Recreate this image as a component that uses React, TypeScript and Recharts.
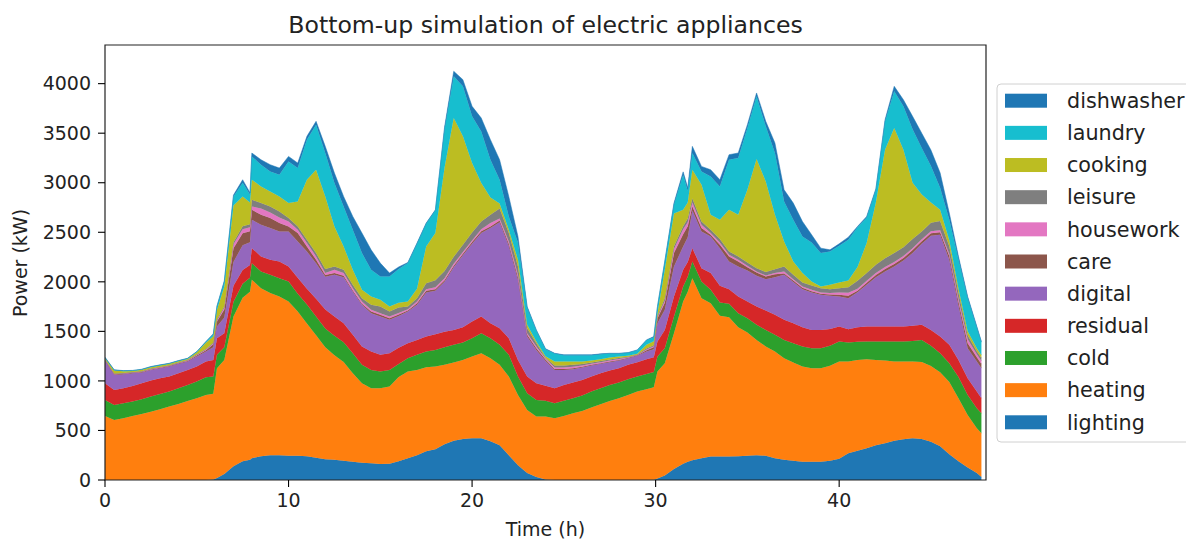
import React from 'react';
import { AreaChart, Area, XAxis, YAxis, ReferenceArea } from 'recharts';

const hours = [0,0.5,1,1.5,2,2.5,3,3.5,4,4.5,5,5.5,5.9,6.1,6.5,7,7.5,7.9,8,8.5,9,9.5,10,10.5,11,11.5,12,12.5,13,13.5,14,14.5,15,15.5,16,16.5,17,17.5,18,18.5,19,19.5,20,20.5,21,21.5,22,22.5,23,23.5,24,24.5,25,25.5,26,26.5,27,27.5,28,28.5,29,29.5,29.9,30.1,30.5,31,31.5,31.75,32,32.5,33,33.5,34,34.5,35,35.5,36,36.5,37,37.5,38,38.5,39,39.5,40,40.5,41,41.5,42,42.5,43,43.5,44,44.5,45,45.5,46,46.5,47,47.5,47.75];

const lighting = [0,0,0,0,0,0,0,0,0,0,0,0, 5,20,60,140,190,205, 220,240,250,250,245,245,240,225,210,205,195,185,175,168,162,165,190,220,250,290,310,360,395,415,421,421,390,350,250,150,70,30,5,0,0,0,0,0,0,0,0,0,0,0, 2,15, 45,110,165, 185, 200,220,236,236,236,240,245,250,245,220,205,195,185,185,185,195,215,270,295,320,350,370,395,411,421,415,385,340,260,190,125,70, 30];
const heating = [646,606,623,646,667,690,714,741,768,798,825,858, 865,1108,1152,1510,1650,1695, 1800,1696,1636,1602,1556,1455,1340,1235,1130,1055,995,892,801,758,764,778,850,874,861,848,835,802,790,797,825,858,839,812,794,709,637,610,635,623,646,673,697,731,764,798,825,859,892,916, 933,1079, 1133,1371,1636, 1715, 1837,1615,1549,1421,1407,1302,1243,1164,1102,1076,1024,990,960,943,943,957,980,925,917,899,862,835,800,784,774,777,765,748,730,635,532,452, 441];
const cold = [162,152,151,145,148,152,155,151,158,162,168,179, 174,135,128,150,140,140, 168,168,185,185,202,180,190,190,190,195,200,202,186,185,168,168,130,135,152,158,168,178,179,175,185,202,202,202,219,185,168,168,160,151,155,152,155,161,162,162,158,158,152,155, 155,152, 152,169,152, 150, 168,168,134,134,135,142,145,152,168,169,185,195,202,202,202,202,202,192,182,178,185,192,202,202,209,222,204,191,188,215,201,202, 202];
const residual = [168,151,152,158,161,161,158,152,151,151,152,158, 168,168,140,160,140,130, 152,152,151,168,152,160,160,180,190,195,192,186,185,185,169,168,165,151,151,152,158,155,151,155,168,169,151,168,168,168,169,168,150,152,159,158,158,152,151,144,145,145,145,148, 150,151, 185,202,168, 150, 135,135,169,169,148,168,168,185,195,202,202,202,195,185,185,171,152,135,148,152,152,152,152,152,152,152,161,169,186,170,169,168, 152];
const digital = [229,152,141,128,108,108,101,101,95,84,101,101, 128,118,160,240,250,230, 286,320,320,303,353,367,376,358,330,421,465,437,421,388,387,337,320,320,354,444,439,505,633,727,785,842,960,1068,933,808,404,337,250,185,151,135,125,111,95,85,77,67,64,77, 80,185, 202,303,236, 250, 380,370,370,380,279,303,313,310,317,380,455,415,384,377,354,334,303,313,353,421,498,555,606,666,734,818,950,1027,858,550,303,303, 303];
const care = [5,5,5,5,5,5,5,5,5,5,10,14, 30,51,80,140,120,110, 101,101,101,85,51,85,51,34,20,17,14,10,10,16,17,17,15,10,17,17,15,15,14,14,17,18,17,20,20,27,17,17,15,10,10,10,8,7,7,6,6,5,5,14, 20,51, 73,135,123, 110, 40,34,17,34,51,50,34,33,27,30,14,16,14,14,10,13,18,25,15,20,23,26,25,25,30,26,25,25,38,40,50,45, 42];
const housework = [4,4,4,4,4,4,4,4,4,5,6,6, 8,10,20,40,40,40, 34,63,57,57,50,33,34,34,20,33,27,24,23,17,17,17,16,14,16,17,20,20,20,17,17,20,34,20,23,24,16,17,10,15,15,15,12,10,10,10,9,6,4,8, 10,12, 20,40,50, 40, 40,34,17,23,17,17,14,10,10,11,19,14,13,13,13,14,22,30,20,20,20,20,20,20,20,20,20,20,20,30,40,30, 30];
const leisure = [4,4,4,4,4,4,4,4,4,5,6,6, 7,10,10,20,30,30, 67,55,61,60,34,34,33,34,40,34,33,34,34,51,67,50,54,27,34,60,70,75,70,75,80,80,85,100,85,84,51,33,10,20,20,20,15,13,11,10,10,5,4,8, 10,10, 25,30,30, 40, 40,33,33,34,33,34,33,34,34,40,51,44,41,44,44,40,44,56,80,78,82,89,90,90,91,79,85,95,80,60,40,30, 30];
const cooking = [11,31,18,10,15,14,14,14,14,12,20,63, 65,97,200,370,300,220, 202,168,151,152,152,252,606,841,732,404,236,151,84,84,67,51,50,50,95,371,477,1040,1401,1093,702,387,172,50,33,67,34,17,15,39,39,32,25,20,19,21,16,8,7,38, 40,29, 286,330,167, 160, 291,371,152,195,421,421,734,1101,915,549,252,134,94,40,17,44,58,67,140,303,628,1094,1262,983,569,371,205,112,60,40,40,30, 30];
const laundry = [6,5,4,4,4,5,5,4,4,5,6,10, 20,34,50,90,140,80, 236,219,202,219,420,337,404,455,438,438,404,404,371,269,236,303,340,388,455,231,230,390,421,505,470,521,382,240,135,176,174,113,70,81,65,65,65,55,51,40,30,30,37,46, 40,61, 79,90,353, 120, 169,134,387,337,505,572,623,633,556,623,404,421,370,394,337,336,370,411,400,259,130,287,370,438,540,470,370,223,206,300,340,210, 130];
const dishwasher = [5,2,2,2,2,2,2,2,2,2,2,2, 5,5,10,15,30,20, 34,50,68,67,51,51,34,34,67,101,101,135,202,202,135,34,20,6,6,5,5,20,51,67,101,135,202,202,202,60,11,5,5,3,3,3,3,3,3,3,3,3,3,4, 8,6, 10,15,30, 30, 67,51,67,67,51,51,34,34,51,101,118,169,151,78,50,17,20,27,9,10,10,16,51,67,130,150,160,150,68,26,12,9, 7];

const categories = ['lighting', 'heating', 'cold', 'residual', 'digital', 'care', 'housework', 'leisure', 'cooking', 'laundry', 'dishwasher'];
const seriesValues = [lighting, heating, cold, residual, digital, care, housework, leisure, cooking, laundry, dishwasher];
const colors = ['#1f77b4', '#ff7f0e', '#2ca02c', '#d62728', '#9467bd', '#8c564b', '#e377c2', '#7f7f7f', '#bcbd22', '#17becf', '#1f77b4'];

const xTicks = [0, 10, 20, 30, 40];
const yTicks = [0, 500, 1000, 1500, 2000, 2500, 3000, 3500, 4000];
const X_MAX = 48;
const Y_MAX = 4390;

const data = hours.map((t, i) => {
  const row: Record<string, number> = { t };
  categories.forEach((c, k) => {
    row[c] = seriesValues[k][i];
  });
  return row;
});

const FONT = "'DejaVu Sans', 'Liberation Sans', sans-serif";
const TEXT = '#222222';

export default function App() {
  const legendItems = categories.map((c, k) => ({ name: c, color: colors[k] })).reverse();
  return (
    <div style={{ position: 'absolute', left: 0, top: 0, width: 1186, height: 540, background: '#ffffff', overflow: 'hidden' }}>
      <AreaChart width={1186} height={540} data={data} margin={{ top: 45, right: 200, bottom: 0, left: 0 }}>
        <XAxis
          dataKey="t"
          type="number"
          domain={[0, X_MAX]}
          ticks={xTicks}
          height={60}
          tickSize={7}
          tickMargin={7}
          axisLine={false}
          tickLine={{ stroke: '#000', strokeWidth: 1.1 }}
          tick={{ fontFamily: FONT, fontSize: 19, fill: TEXT }}
          allowDataOverflow
        />
        <YAxis
          type="number"
          domain={[0, Y_MAX]}
          ticks={yTicks}
          width={105}
          tickSize={7}
          tickMargin={7}
          axisLine={false}
          tickLine={{ stroke: '#000', strokeWidth: 1.1 }}
          tick={{ fontFamily: FONT, fontSize: 19, fill: TEXT }}
          allowDataOverflow
        />
        {categories.map((c, k) => (
          <Area
            key={c}
            type="linear"
            dataKey={c}
            stackId="stack"
            stroke={colors[k]}
            strokeWidth={0.5}
            fill={colors[k]}
            fillOpacity={1}
            dot={false}
            activeDot={false}
            isAnimationActive={false}
          />
        ))}
        <ReferenceArea x1={0} x2={X_MAX} y1={0} y2={Y_MAX} fill="none" fillOpacity={0} stroke="#222" strokeWidth={1.2} />
      </AreaChart>
      <svg width={1186} height={540} style={{ position: 'absolute', left: 0, top: 0, pointerEvents: 'none' }}>
        <text x={545.5} y={33} textAnchor="middle" fontFamily={FONT} fontSize={23.6} fill={TEXT}>
          Bottom-up simulation of electric appliances
        </text>
        <text x={545.5} y={536} textAnchor="middle" fontFamily={FONT} fontSize={19} fill={TEXT}>
          Time (h)
        </text>
        <text transform="translate(27,263) rotate(-90)" textAnchor="middle" fontFamily={FONT} fontSize={19} fill={TEXT}>
          Power (kW)
        </text>
        <rect x={997} y={84} width={230} height={358} rx={4} ry={4} fill="#ffffff" fillOpacity={0.85} stroke="#d0d0d0" strokeWidth={1} />
        {legendItems.map((it, k) => {
          const cy = 100.7 + 32.16 * k;
          return (
            <g key={it.name}>
              <rect x={1005} y={cy - 7} width={42} height={14} fill={it.color} />
              <text x={1067} y={cy + 7.2} fontFamily={FONT} fontSize={20.7} fill={TEXT}>
                {it.name}
              </text>
            </g>
          );
        })}
      </svg>
    </div>
  );
}
